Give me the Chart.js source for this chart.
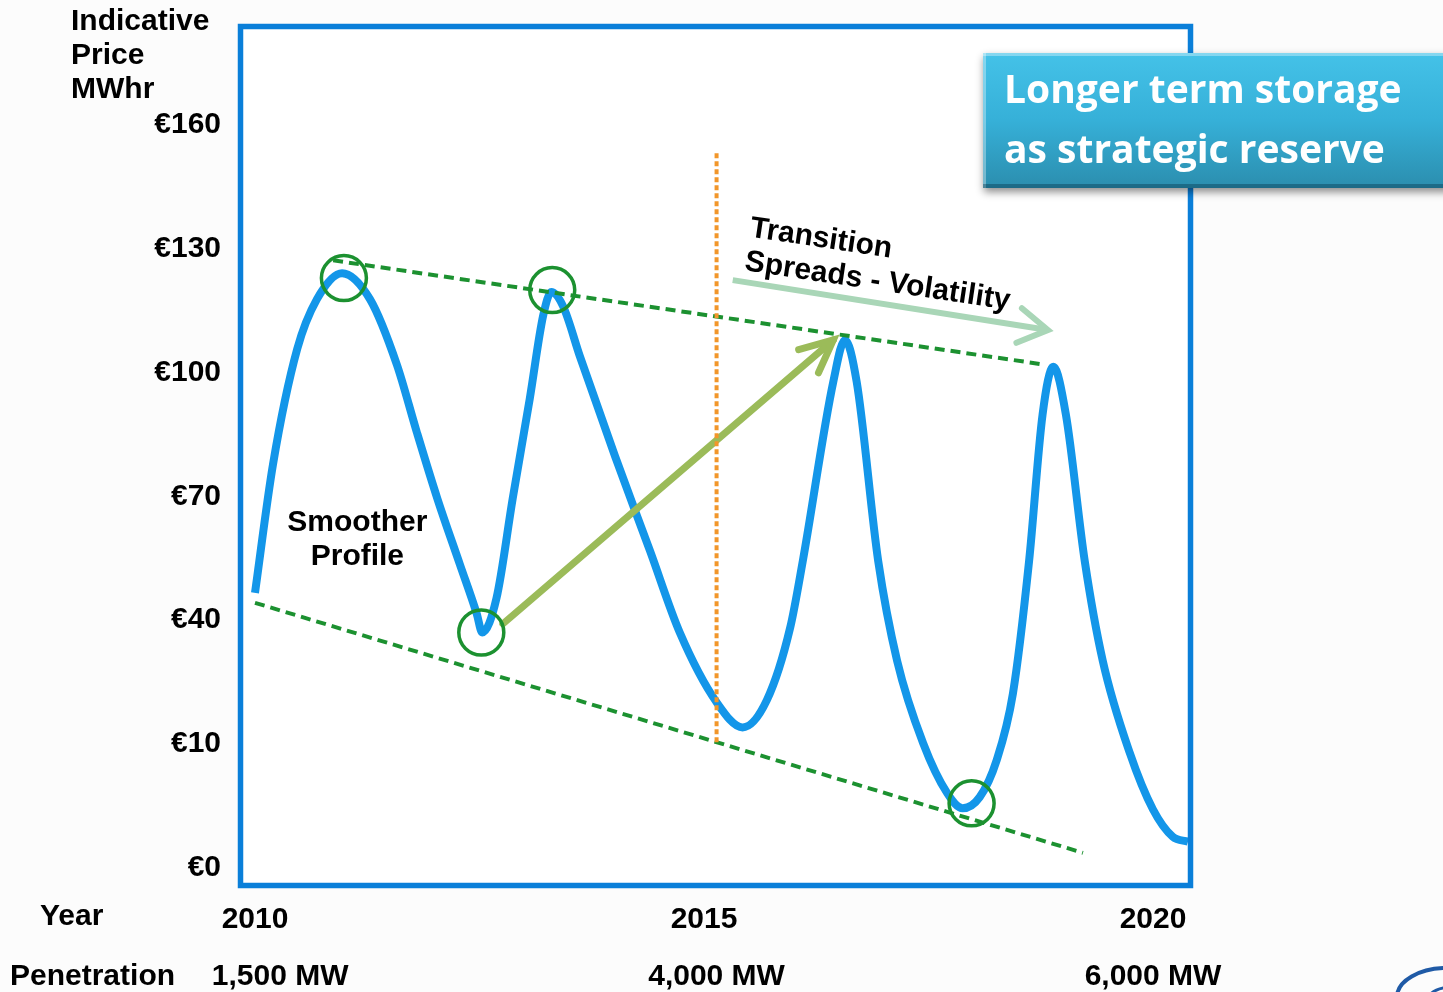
<!DOCTYPE html>
<html>
<head>
<meta charset="utf-8">
<script src="https://cdn.jsdelivr.net/npm/chart.js@4.4.1/dist/chart.umd.min.js"></script>
<style>
  html, body { margin: 0; padding: 0; background: #fcfcfc; }
  #wrap { position: relative; width: 1443px; height: 992px; }
  canvas { display: block; }
</style>
</head>
<body>
<div id="wrap"><canvas id="chart" width="1443" height="992"></canvas></div>
<script>
// ---------------- data ----------------
// Indicative price curve (year, EUR/MWh)
const YEARS = [
  2010.00, 2010.20, 2010.47, 2010.69, 2010.97, 2011.28, 2011.58, 2011.80, 2012.03, 2012.28,
  2012.47, 2012.53, 2012.69, 2012.87, 2013.06, 2013.21, 2013.30, 2013.43, 2013.62, 2014.01,
  2014.40, 2014.73, 2015.14, 2015.43, 2015.70, 2015.96, 2016.10, 2016.44, 2016.57,
  2016.70, 2016.94, 2017.15, 2017.44, 2017.71, 2017.88, 2018.07, 2018.26, 2018.44, 2018.62,
  2018.77, 2018.89, 2019.03, 2019.24, 2019.44, 2019.74, 2020.00, 2020.22, 2020.39
];
const PRICES = [
  46.6, 77.7, 105.7, 117.8, 124.1, 117.8, 101.9, 85.7, 69.5, 53.6,
  41.5, 37.0, 45.4, 69.5, 93.7, 113.9, 119.5, 116.1, 103.8, 79.7,
  56.7, 37.0, 20.1, 14.0, 20.6, 38.2, 54.3, 97.8, 107.9,
  97.8, 54.3, 30.2, 10.2, 6.0, 4.8, 5.7, 8.7, 22.2, 54.3,
  89.8, 101.4, 89.8, 54.3, 30.2, 9.3, 4.7, 2.5, 2.1
];

// axis levels and labels
const PRICE_LEVELS = [0, 10, 40, 70, 100, 130, 160];
const PRICE_LABELS = ['€0', '€10', '€40', '€70', '€100', '€130', '€160'];
const TICK_YEARS = [2010, 2015, 2020];
const YEAR_LABELS = ['2010', '2015', '2020'];
const PENETRATION_YEARS = [2010.28, 2015.14, 2020.0];
const PENETRATION_LABELS = ['1,500 MW', '4,000 MW', '6,000 MW'];

// trend lines (dashed green)
const UPPER_TREND_YEARS = [2010.87, 2018.80];
const UPPER_TREND_PRICES = [127.2, 101.9];
const LOWER_TREND_YEARS = [2010.00, 2019.22];
const LOWER_TREND_PRICES = [44.2, 1.2];

// highlighted extremes (green circles)
const HIGHLIGHT_YEARS = [2010.99, 2013.31, 2012.52, 2017.98];
const HIGHLIGHT_PRICES = [122.9, 120.0, 37.0, 5.2];

// 2015 marker (orange dotted)
const MARKER_YEARS = [2015.14, 2015.14];
const MARKER_PRICES = [10.4, 153.3];

// arrows
const VOL_ARROW_YEARS = [2012.76, 2016.44];
const VOL_ARROW_PRICES = [39.1, 107.9];
const TREND_ARROW_YEARS = [2015.32, 2018.83];
const TREND_ARROW_PRICES = [122.4, 110.3];

// text annotations anchors (year, price)
const SMOOTHER_AT = [2011.14, 59.4];
const TRANSITION_AT = [2015.50, 133.0];

// ---------------- piecewise price scale ----------------
class PriceScale extends Chart.LinearScale {
  static id = 'price';
  _toIndex(v) {
    const L = PRICE_LEVELS, n = L.length;
    if (v <= L[1]) return (v - L[0]) / (L[1] - L[0]);
    for (let k = 1; k < n - 1; k++) {
      if (v <= L[k + 1]) return k + (v - L[k]) / (L[k + 1] - L[k]);
    }
    return (n - 2) + (v - L[n - 2]) / (L[n - 1] - L[n - 2]);
  }
  _fromIndex(i) {
    const L = PRICE_LEVELS, n = L.length;
    if (i <= 1) return L[0] + i * (L[1] - L[0]);
    const k = Math.min(Math.floor(i), n - 2);
    return L[k] + (i - k) * (L[k + 1] - L[k]);
  }
  buildTicks() { return PRICE_LEVELS.map(v => ({ value: v })); }
  configure() {
    super.configure();
    this._i0 = this._toIndex(this.min);
    this._i1 = this._toIndex(this.max);
  }
  getPixelForValue(v) {
    return this.getPixelForDecimal((this._toIndex(v) - this._i0) / (this._i1 - this._i0));
  }
  getValueForPixel(p) {
    return this._fromIndex(this._i0 + this.getDecimalForPixel(p) * (this._i1 - this._i0));
  }
}
Chart.register(PriceScale);

const zip = (xs, ys) => xs.map((x, i) => ({ x, y: ys[i] }));

const FONT = '"Liberation Sans", Arial, sans-serif';
Chart.defaults.font.family = FONT;

const BLUE = '#1396e9';
const BORDER_BLUE = '#0a7fd9';
const GREEN = '#1c9130';
const OLIVE = '#9bbb59';
const PALE = '#a9d6b7';
const ORANGE = '#f2962a';

function chevron(ctx, from, tip, len, deg) {
  const ang = Math.atan2(from.y - tip.y, from.x - tip.x);
  const a = deg * Math.PI / 180;
  ctx.beginPath();
  ctx.moveTo(tip.x + len * Math.cos(ang + a), tip.y + len * Math.sin(ang + a));
  ctx.lineTo(tip.x, tip.y);
  ctx.lineTo(tip.x + len * Math.cos(ang - a), tip.y + len * Math.sin(ang - a));
  ctx.stroke();
}

const overlay = {
  id: 'overlay',
  beforeDatasetsDraw(chart) {
    const { ctx, chartArea: a } = chart;
    ctx.save();
    ctx.fillStyle = '#ffffff';
    ctx.fillRect(a.left, a.top, a.right - a.left, a.bottom - a.top);
    ctx.restore();
  },
  afterDatasetsDraw(chart) {
    const { ctx, chartArea: a, scales } = chart;
    const P = (yr, pr) => ({ x: scales.x.getPixelForValue(yr), y: scales.y.getPixelForValue(pr) });
    ctx.save();
    ctx.lineCap = 'round';
    ctx.lineJoin = 'miter';
    ctx.strokeStyle = PALE; ctx.lineWidth = 6;
    chevron(ctx, P(TREND_ARROW_YEARS[0], TREND_ARROW_PRICES[0]), P(TREND_ARROW_YEARS[1], TREND_ARROW_PRICES[1]), 34, 31);
    ctx.strokeStyle = OLIVE; ctx.lineWidth = 7;
    chevron(ctx, P(VOL_ARROW_YEARS[0], VOL_ARROW_PRICES[0]), P(VOL_ARROW_YEARS[1], VOL_ARROW_PRICES[1]), 36, 25);
    ctx.strokeStyle = BORDER_BLUE; ctx.lineWidth = 5.5; ctx.lineJoin = 'miter'; ctx.lineCap = 'butt';
    ctx.strokeRect(a.left + 0.5, a.top + 0.5, a.right - a.left, a.bottom - a.top);
    ctx.restore();
  },
  afterDraw(chart) {
    const { ctx, scales } = chart;
    const P = (yr, pr) => ({ x: scales.x.getPixelForValue(yr), y: scales.y.getPixelForValue(pr) });
    ctx.save();
    ctx.fillStyle = '#000000';
    ctx.font = 'bold 30px ' + FONT;
    ctx.textAlign = 'left'; ctx.textBaseline = 'alphabetic';
    ['Indicative', 'Price', 'MWhr'].forEach((t, i) => ctx.fillText(t, 71, 30 + i * 34));
    const rowY = (sc) => sc.top + sc.options.ticks.padding + sc.options.ticks.font.size * 0.6;
    ctx.textBaseline = 'middle';
    ctx.fillText('Year', 40, rowY(scales.x) - 3);
    ctx.fillText('Penetration', 10, rowY(scales.x2));
    const s = P(SMOOTHER_AT[0], SMOOTHER_AT[1]);
    ctx.textAlign = 'center';
    ctx.fillText('Smoother', s.x, s.y - 17);
    ctx.fillText('Profile', s.x, s.y + 17);
    const t = P(TRANSITION_AT[0], TRANSITION_AT[1]);
    ctx.translate(t.x, t.y);
    ctx.rotate(8.5 * Math.PI / 180);
    ctx.textAlign = 'left'; ctx.textBaseline = 'alphabetic';
    ctx.fillText('Transition', 0, 0);
    ctx.fillText('Spreads - Volatility', 0, 34);
    ctx.restore();

    // callout box
    ctx.save();
    const bx = 983, by = 53, bw = 480, bh = 135;
    ctx.shadowColor = 'rgba(0,0,0,0.45)';
    ctx.shadowBlur = 8; ctx.shadowOffsetY = 4; ctx.shadowOffsetX = 1;
    const g = ctx.createLinearGradient(0, by, 0, by + bh);
    g.addColorStop(0, '#44c2e8');
    g.addColorStop(0.5, '#36b0d8');
    g.addColorStop(1, '#2b8eae');
    ctx.fillStyle = g;
    ctx.fillRect(bx, by, bw, bh);
    ctx.shadowColor = 'transparent';
    ctx.fillStyle = 'rgba(255,255,255,0.35)';
    ctx.fillRect(bx, by, bw, 3);
    ctx.fillRect(bx, by, 3, bh);
    ctx.fillStyle = 'rgba(0,40,60,0.35)';
    ctx.fillRect(bx, by + bh - 4, bw, 4);
    ctx.fillStyle = '#ffffff';
    ctx.font = 'bold 39px "Open Sans", Lato, sans-serif';
    ctx.textAlign = 'left'; ctx.textBaseline = 'alphabetic';
    ctx.fillText('Longer term storage', 1004, 103, 400);
    ctx.fillText('as strategic reserve', 1004, 163, 400);
    ctx.restore();

    // partial logo, bottom right
    ctx.save();
    ctx.strokeStyle = '#1f5aa6'; ctx.lineWidth = 4;
    ctx.beginPath(); ctx.ellipse(1447, 997, 50, 29, 0, Math.PI, 1.5 * Math.PI); ctx.stroke();
    ctx.lineWidth = 3;
    ctx.beginPath(); ctx.ellipse(1452, 1000, 24, 13, 0, 1.05 * Math.PI, 1.5 * Math.PI); ctx.stroke();
    ctx.restore();
  }
};

const noPad = (sc) => { sc.paddingTop = 0; sc.paddingBottom = 0; sc.paddingLeft = 0; sc.paddingRight = 0; };

new Chart(document.getElementById('chart'), {
  type: 'line',
  data: {
    datasets: [
      {
        data: zip(HIGHLIGHT_YEARS, HIGHLIGHT_PRICES), showLine: false,
        pointRadius: 22.5, pointHoverRadius: 22.5, pointStyle: 'circle',
        pointBorderColor: GREEN, pointBackgroundColor: 'rgba(0,0,0,0)', pointBorderWidth: 3.5,
        order: 0, clip: false
      },
      {
        data: zip(MARKER_YEARS, MARKER_PRICES), borderColor: ORANGE, borderWidth: 4,
        borderDash: [5, 3], pointRadius: 0, tension: 0, order: 1
      },
      {
        data: zip(VOL_ARROW_YEARS, VOL_ARROW_PRICES), borderColor: OLIVE, borderWidth: 7,
        borderCapStyle: 'round', pointRadius: 0, tension: 0, order: 2
      },
      {
        data: zip(UPPER_TREND_YEARS, UPPER_TREND_PRICES), borderColor: GREEN, borderWidth: 4,
        borderDash: [10, 6], pointRadius: 0, tension: 0, order: 3
      },
      {
        data: zip(LOWER_TREND_YEARS, LOWER_TREND_PRICES), borderColor: GREEN, borderWidth: 4,
        borderDash: [10, 6], pointRadius: 0, tension: 0, order: 3
      },
      {
        data: zip(TREND_ARROW_YEARS, TREND_ARROW_PRICES), borderColor: PALE, borderWidth: 6,
        borderCapStyle: 'butt', pointRadius: 0, tension: 0, order: 4
      },
      {
        data: zip(YEARS, PRICES), borderColor: BLUE, borderWidth: 8,
        cubicInterpolationMode: 'monotone', borderJoinStyle: 'round', borderCapStyle: 'butt',
        pointRadius: 0, order: 5
      }
    ]
  },
  options: {
    responsive: false,
    animation: false,
    events: [],
    layout: { padding: { left: 0, right: 253, top: 22, bottom: 0 } },
    plugins: { legend: { display: false }, tooltip: { enabled: false } },
    scales: {
      x: {
        type: 'linear', position: 'bottom', min: 2009.833, max: 2020.412,
        grid: { display: false, drawTicks: false }, border: { display: false },
        afterBuildTicks: (sc) => { sc.ticks = TICK_YEARS.map(v => ({ value: v })); },
        afterFit: (sc) => { noPad(sc); sc.height = 60; },
        ticks: {
          autoSkip: false, maxRotation: 0, padding: 17, color: '#000000',
          font: { size: 30, weight: 'bold' },
          callback: (v, i) => YEAR_LABELS[i]
        }
      },
      x2: {
        type: 'linear', position: 'bottom', min: 2009.833, max: 2020.412,
        grid: { display: false, drawTicks: false }, border: { display: false },
        afterBuildTicks: (sc) => { sc.ticks = PENETRATION_YEARS.map(v => ({ value: v })); },
        afterFit: (sc) => { noPad(sc); sc.height = 47; },
        ticks: {
          autoSkip: false, maxRotation: 0, padding: 14, color: '#000000',
          font: { size: 30, weight: 'bold' },
          callback: (v, i) => PENETRATION_LABELS[i]
        }
      },
      y: {
        type: 'price', min: -1.4, max: 184,
        grid: { display: false, drawTicks: false }, border: { display: false },
        afterFit: (sc) => { noPad(sc); sc.width = 240; },
        ticks: {
          autoSkip: false, padding: 19, color: '#000000',
          font: { size: 30, weight: 'bold' },
          callback: (v) => PRICE_LABELS[PRICE_LEVELS.indexOf(v)]
        }
      }
    }
  },
  plugins: [overlay]
});
</script>
</body>
</html>
